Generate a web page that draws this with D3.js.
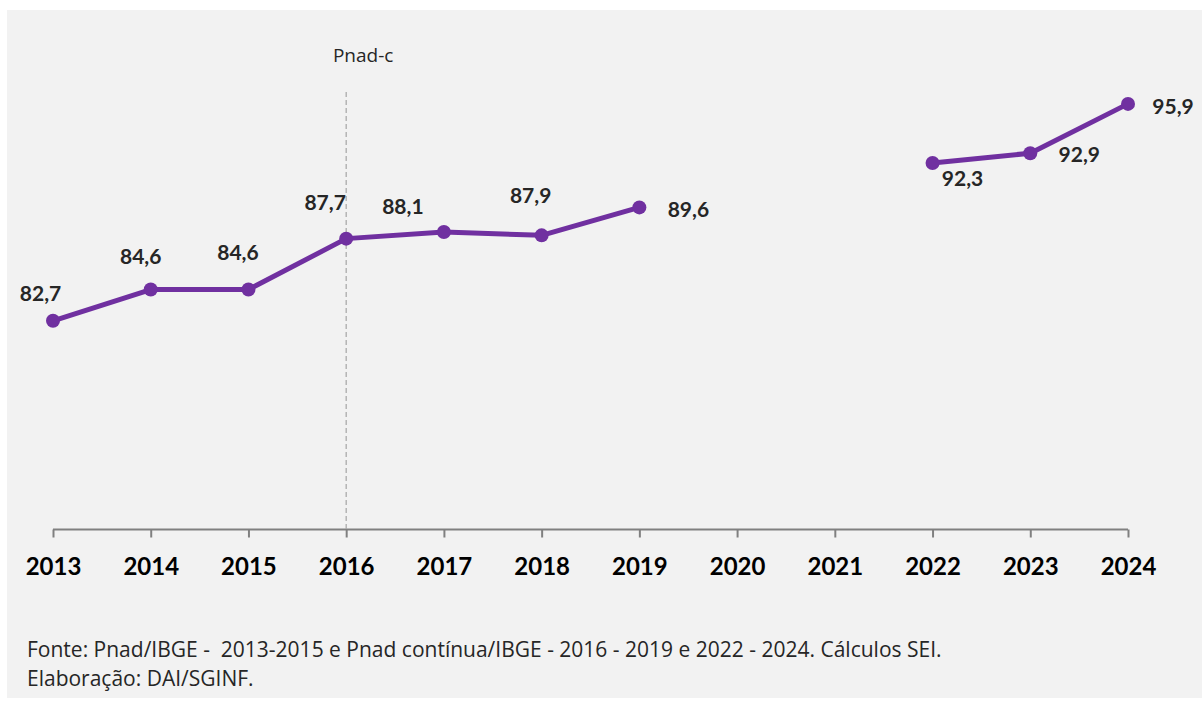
<!DOCTYPE html>
<html>
<head>
<meta charset="utf-8">
<script src="https://cdn.jsdelivr.net/npm/d3@7"></script>
<style>
  html, body { margin: 0; padding: 0; background: #ffffff; }
  svg { display: block; }
</style>
</head>
<body>
<svg id="chart" width="1202" height="701"></svg>
<script>
// Years on the axis (2020 and 2021 have no survey data)
const years = [2013, 2014, 2015, 2016, 2017, 2018, 2019, 2020, 2021, 2022, 2023, 2024];
// Values per year; null marks the gap
const values = [82.7, 84.6, 84.6, 87.7, 88.1, 87.9, 89.6, null, null, 92.3, 92.9, 95.9];
const yDomain = [70, 100];
const breakYear = 2016;
const breakLabel = "Pnad-c";
const footer = [
  "Fonte: Pnad/IBGE -  2013-2015 e Pnad contínua/IBGE - 2016 - 2019 e 2022 - 2024. Cálculos SEI.",
  "Elaboração: DAI/SGINF."
];

// Label placement (centre of each value label relative to its point)
const labelOffsets = [
  [-12.5, -27], [-10, -33], [-10.5, -37], [-21, -36], [-41, -26], [-11, -40],
  [49, 2], null, null, [30, 15.5], [49, 1], [45, 2.5]
];

const fmt = v => d3.format(".1f")(v).replace(".", ",");
const BOLD = "Lato, 'Open Sans', sans-serif";
const REG = "'Open Sans', 'Noto Sans', sans-serif";

const svg = d3.select("#chart");

// panel background
svg.append("rect").attr("x", 7).attr("y", 10).attr("width", 1195).attr("height", 688).attr("fill", "#f2f2f2");

const x = d3.scalePoint().domain(years).range([53, 1128]);
const y = d3.scaleLinear().domain(yDomain).range([529.5, 36.5]);

// x axis
const axis = svg.append("g")
  .attr("transform", `translate(0,${y(yDomain[0])})`)
  .call(d3.axisBottom(x).tickSize(8).tickSizeOuter(0).tickPadding(20));
axis.select(".domain").attr("stroke", "#808080").attr("stroke-width", 2)
  .attr("d", `M${x(years[0])},0H${x(years[years.length - 1])}`);
axis.selectAll(".tick line").attr("stroke", "#808080").attr("stroke-width", 2);
axis.selectAll(".tick text")
  .attr("font-family", BOLD).attr("font-weight", 700).attr("font-size", 24)
  .attr("fill", "#000000");

// series break marker
svg.append("line")
  .attr("x1", x(breakYear)).attr("x2", x(breakYear))
  .attr("y1", 92).attr("y2", y(yDomain[0]))
  .attr("stroke", "#a6a6a6").attr("stroke-width", 1.2).attr("stroke-dasharray", "5,3");
svg.append("text")
  .attr("x", x(breakYear) + 17).attr("y", 62)
  .attr("text-anchor", "middle")
  .attr("font-family", REG).attr("font-size", 19).attr("fill", "#262626")
  .text(breakLabel);

const data = years.map((yr, i) => ({ yr, v: values[i], off: labelOffsets[i] }));

// line with gap
const line = d3.line()
  .defined(d => d.v !== null)
  .x(d => x(d.yr)).y(d => y(d.v));
svg.append("path")
  .datum(data)
  .attr("d", line)
  .attr("fill", "none").attr("stroke", "#7030a0").attr("stroke-width", 5)
  .attr("stroke-linejoin", "round");

const pts = data.filter(d => d.v !== null);
svg.selectAll("circle.pt").data(pts).join("circle")
  .attr("class", "pt")
  .attr("cx", d => x(d.yr)).attr("cy", d => y(d.v)).attr("r", 7)
  .attr("fill", "#7030a0");

// value labels
svg.selectAll("text.val").data(pts).join("text")
  .attr("class", "val")
  .attr("x", d => x(d.yr) + d.off[0])
  .attr("y", d => y(d.v) + d.off[1])
  .attr("dy", "0.36em")
  .attr("text-anchor", "middle")
  .attr("font-family", BOLD).attr("font-weight", 700).attr("font-size", 21)
  .attr("fill", "#262626")
  .text(d => fmt(d.v));

// source note
svg.selectAll("text.foot").data(footer).join("text")
  .attr("class", "foot")
  .attr("x", 27).attr("y", (d, i) => 657 + i * 29)
  .attr("font-family", REG).attr("font-size", 21).attr("fill", "#262626")
  .style("white-space", "pre")
  .text(d => d);
</script>
</body>
</html>
